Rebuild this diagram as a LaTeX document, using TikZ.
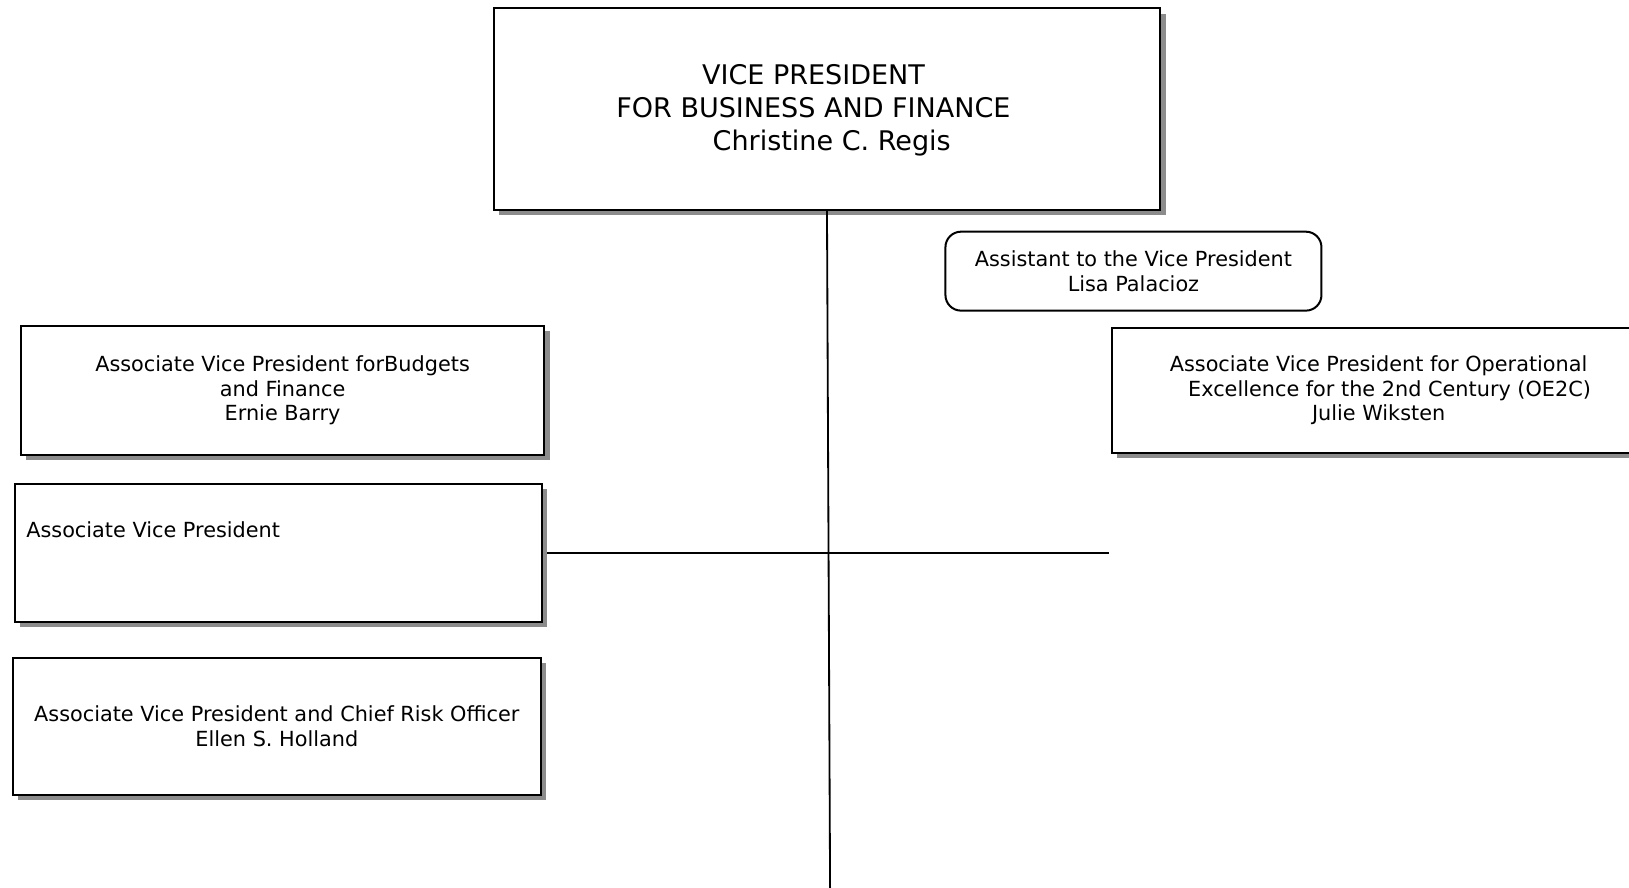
\documentclass[tikz,border=0pt]{standalone}
\usepackage{fontspec}
\setmainfont{DejaVu Sans}
\usetikzlibrary{shadows}
\tikzset{unitbox/.style={draw, rectangle, line width=1.1pt, fill=white, inner sep=0pt, outer sep=0pt,
  drop shadow={shadow xshift=0.1cm, shadow yshift=-0.1cm, fill=black!45, opacity=1}}}
\tikzset{roundbox/.style={draw, rectangle, rounded corners=0.3cm, line width=1.1pt, fill=white, inner sep=0pt, outer sep=0pt}}
\tikzset{unittext/.style={font=\fontsize{11.4}{13.4}\selectfont, align=center}}
\tikzset{linkline/.style={line width=1pt}}

\begin{document}
\begin{tikzpicture}[x=0.02cm, y=-0.02cm]
      \useasboundingbox (0, 0) rectangle (1568, 854);

      \node [unitbox, minimum width=12.84cm, minimum height=3.88cm] (vp) at (796, 105) {};
      \node [font=\fontsize{14.8}{18.1}\selectfont, align=center] (vptext) at (783, 106)
        {VICE PRESIDENT\\FOR BUSINESS AND FINANCE\\\hspace*{20pt}Christine C. Regis};

      \node [roundbox, minimum width=7.24cm, minimum height=1.52cm, unittext] (assist) at (1091, 261)
        {Assistant to the Vice President\\Lisa Palacioz};

      \node [unitbox, minimum width=10.78cm, minimum height=2.4cm] (oe2c) at (1340, 376) {};
      \node [unittext] (oe2ctext) at (1327, 376)
        {Associate Vice President for Operational\\\hspace*{12pt}Excellence for the 2nd Century (OE2C)\\Julie Wiksten};

      \node [unitbox, minimum width=10.08cm, minimum height=2.48cm, unittext] (budget) at (272, 376)
        {Associate Vice President forBudgets\\and Finance\\Ernie Barry};

      \node [unitbox, minimum width=10.16cm, minimum height=2.66cm] (avp) at (268, 532.5) {};
      \node [unittext, anchor=west, inner sep=0pt] (avptext) at (25, 510) {Associate Vice President};

      \node [unitbox, minimum width=10.18cm, minimum height=2.64cm, unittext] (risk) at (266.5, 699)
        {Associate Vice President and Chief Risk Officer\\Ellen S. Holland};

      % connectors
      \coordinate (vbot) at (799, 856);
      \coordinate (hend) at (1067, 532.5);
      \draw [linkline] (vp.south) -- (vbot);
      \draw [linkline] ([xshift=0.1cm]avp.east) -- (hend);
    \end{tikzpicture}
\end{document}
